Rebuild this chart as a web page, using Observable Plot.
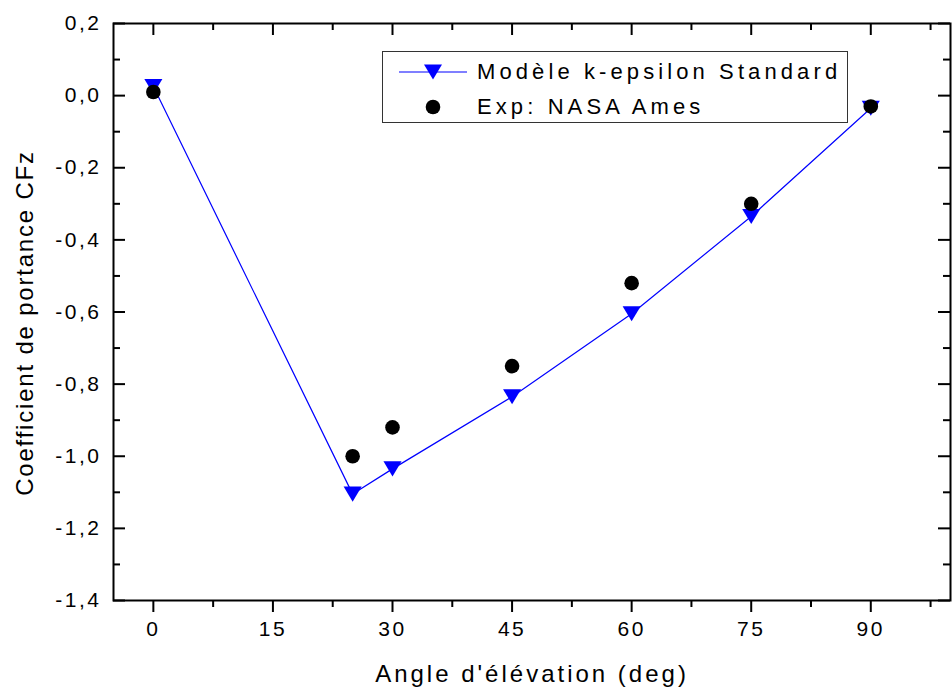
<!DOCTYPE html>
<html>
<head>
<meta charset="utf-8">
<script src="https://cdn.jsdelivr.net/npm/d3@7"></script>
<script src="https://cdn.jsdelivr.net/npm/@observablehq/plot@0.6"></script>
<style>
  html, body { margin: 0; padding: 0; background: #fff; }
  #wrap { position: relative; width: 952px; height: 693px; font-family: "Liberation Sans", Arial, sans-serif; color: #000; }
  #legend { position: absolute; left: 382px; top: 51px; width: 466px; height: 72px; border: 1.5px solid #333; background: #fff; box-sizing: border-box; }
  #legend svg { position: absolute; left: 0; top: 0; }
  #legend .lt { position: absolute; left: 94px; font-size: 22px; letter-spacing: 4.1px; line-height: 22px; white-space: nowrap; }
</style>
</head>
<body>
<div id="wrap"></div>
<script>
// ---- data ----
const angles = [0, 25, 30, 45, 60, 75, 90];
const cfzModel = [0.025, -1.105, -1.035, -0.835, -0.605, -0.335, -0.035];
const cfzExp = [0.01, -1.0, -0.92, -0.75, -0.52, -0.30, -0.03];
const xTicks = [0, 15, 30, 45, 60, 75, 90];
const xMinorTicks = [7.5, 22.5, 37.5, 52.5, 67.5, 82.5, 97.5];
const yTicks = [-1.4, -1.2, -1.0, -0.8, -0.6, -0.4, -0.2, 0.0, 0.2];
const yMinorTicks = [-1.3, -1.1, -0.9, -0.7, -0.5, -0.3, -0.1, 0.1];
const seriesNames = ["Modèle k-epsilon Standard", "Exp: NASA Ames"];
const xTitle = "Angle d'élévation (deg)";
const yTitle = "Coefficient de portance CFz";

const model = angles.map((a, i) => ({angle: a, cfz: cfzModel[i]}));
const exp = angles.map((a, i) => ({angle: a, cfz: cfzExp[i]}));

// ---- layout ----
const W = 952, H = 693;
const mL = 113, mR = 2, mT = 23, mB = 93;
const plotW = W - mL - mR, plotH = H - mT - mB;
const blue = "#0000ff";
const fmtY = d => d.toFixed(1).replace(".", ",");

const triangleDown = {
  draw(context, size) {
    const s = Math.sqrt(size);
    const w = s * 0.68, h = s * 0.565;
    context.moveTo(-w, -h);
    context.lineTo(w, -h);
    context.lineTo(0, h);
    context.closePath();
  }
};

const chart = Plot.plot({
  width: W, height: H,
  marginLeft: mL, marginRight: mR, marginTop: mT, marginBottom: mB,
  style: {fontFamily: '"Liberation Sans", Arial, sans-serif', color: "#000", background: "#fff"},
  x: {domain: [-5, 100], axis: null},
  y: {domain: [-1.4, 0.2], axis: null},
  marks: [
    // bottom axis (outward ticks)
    Plot.axisX(xTicks, {anchor: "bottom", tickSize: 12, tickPadding: 9, strokeWidth: 2, fontSize: 21, tickFormat: d => String(d), label: null}),
    Plot.axisX(xMinorTicks, {anchor: "bottom", tickSize: 7, strokeWidth: 2, tickFormat: () => "", label: null}),
    // left labels
    Plot.axisY(yTicks, {anchor: "left", tickSize: 0, tickPadding: 12, fontSize: 21, tickFormat: fmtY, label: null}),
    // inward ticks: left, right, top
    Plot.tickY(yTicks, {y: d => d, stroke: "#000", strokeWidth: 2, insetRight: plotW - 12}),
    Plot.tickY(yMinorTicks, {y: d => d, stroke: "#000", strokeWidth: 2, insetRight: plotW - 7}),
    Plot.tickY(yTicks, {y: d => d, stroke: "#000", strokeWidth: 2, insetLeft: plotW - 12}),
    Plot.tickY(yMinorTicks, {y: d => d, stroke: "#000", strokeWidth: 2, insetLeft: plotW - 7}),
    Plot.tickX(xTicks, {x: d => d, stroke: "#000", strokeWidth: 2, insetBottom: plotH - 12}),
    Plot.tickX(xMinorTicks, {x: d => d, stroke: "#000", strokeWidth: 2, insetBottom: plotH - 7}),
    Plot.frame({stroke: "#000", strokeWidth: 2}),
    // data
    Plot.line(model, {x: "angle", y: "cfz", stroke: blue, strokeWidth: 1.2}),
    Plot.dot(model, {x: "angle", y: "cfz", symbol: triangleDown, r: 7.5, fill: blue, stroke: "none"}),
    Plot.dot(exp, {x: "angle", y: "cfz", r: 7.3, fill: "#000", stroke: "none"}),
    // titles
    Plot.text([xTitle], {text: d => d, frameAnchor: "bottom", textAnchor: "middle", dy: 74, lineAnchor: "middle", fontSize: 24, fill: "#000"}),
    Plot.text([yTitle], {text: d => d, frameAnchor: "left", textAnchor: "middle", rotate: -90, dx: -88, dy: 11, lineAnchor: "middle", fontSize: 24, fill: "#000"})
  ]
});

const svg = d3.select(chart);
svg.selectAll('g[aria-label="y-axis tick label"] text, g[aria-label="x-axis tick label"] text').style("letter-spacing", "2.5px");
svg.selectAll("text").filter(function() { return this.textContent === xTitle; }).style("letter-spacing", "3px");
svg.selectAll("text").filter(function() { return this.textContent === yTitle; }).style("letter-spacing", "1.8px");

const wrap = document.getElementById("wrap");
wrap.appendChild(chart);

// legend (inside the plot area, as in the reference)
const legend = document.createElement("div");
legend.id = "legend";
legend.innerHTML = `
  <svg width="466" height="72">
    <line x1="16" x2="84" y1="20" y2="20" stroke="${blue}" stroke-width="1.2"></line>
    <path d="M41,12.5 L59,12.5 L50,27.5 Z" fill="${blue}"></path>
    <circle cx="50" cy="55" r="7.3" fill="#000"></circle>
  </svg>
  <div class="lt" style="top:9px">${seriesNames[0]}</div>
  <div class="lt" style="top:44px">${seriesNames[1]}</div>`;
wrap.appendChild(legend);
</script>
</body>
</html>
